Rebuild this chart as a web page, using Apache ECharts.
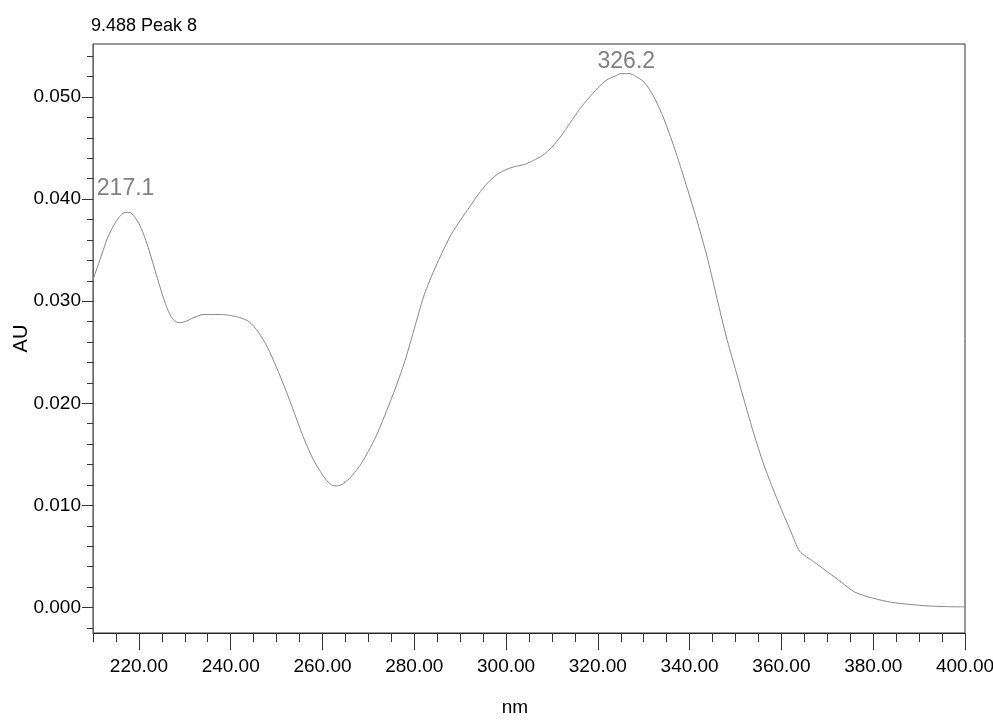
<!DOCTYPE html>
<html>
<head>
<meta charset="utf-8">
<script src="https://cdn.jsdelivr.net/npm/echarts@6/dist/echarts.min.js"></script>
<style>
  html, body { margin: 0; padding: 0; background: #fff; }
  #chart { width: 993px; height: 724px; }
</style>
</head>
<body>
<div id="chart"></div>
<script>
// UV spectrum of peak 8 (retention 9.488 min)
const wavelengths = [210,211,212,213,214,215,216,217,218,219,220,221,222,223,224,225,226,227,228,229,230,232,234,236,238,240,242,244,246,248,250,252,254,256,258,260,261,262,263,264,265,266,268,270,272,274,276,278,280,282,284,286,288,290,292,294,296,298,300,302,304,306,308,310,312,314,316,318,320,322,324,325,326,327,328,330,332,334,336,338,340,342,344,346,348,350,352,354,356,358,360,362,364,367,370,373,376,380,384,388,392,396,400];
const absorbance = [0.0321,0.0334,0.0347,0.0360,0.0370,0.0378,0.0384,0.0387,0.0387,0.0383,0.0376,0.0366,0.0353,0.0338,0.0323,0.0308,0.0295,0.0285,0.0280,0.0279,0.0280,0.0284,0.0287,0.0287,0.0287,0.0286,0.0284,0.0280,0.0270,0.0255,0.0235,0.0213,0.0189,0.0165,0.0145,0.0130,0.0124,0.0120,0.0119,0.0120,0.0123,0.0127,0.0138,0.0153,0.0171,0.0193,0.0216,0.0242,0.0273,0.0304,0.0327,0.0347,0.0365,0.0379,0.0392,0.0405,0.0416,0.0424,0.0429,0.0432,0.0434,0.0438,0.0443,0.0451,0.0462,0.0475,0.0488,0.0499,0.0509,0.0517,0.0521,0.0523,0.0523,0.0523,0.0521,0.0515,0.0502,0.0483,0.0459,0.0432,0.0403,0.0373,0.0340,0.0302,0.0265,0.0233,0.0201,0.0170,0.0142,0.0118,0.0096,0.0075,0.0055,0.0045,0.0035,0.0025,0.0015,0.0009,0.0005,0.0003,0.00015,0.00008,0.00006];

// Apex labels
const peakWavelengths = [217.1, 326.2];
const peakAbsorbance = [0.0387, 0.0523];
const peakLabelLift = [12, 0];

// Axis ticks
const xMajorTicks = [220,240,260,280,300,320,340,360,380,400];
const xMinorTicks = [210,215,220,225,230,235,240,245,250,255,260,265,270,275,280,285,290,295,300,305,310,315,320,325,330,335,340,345,350,355,360,365,370,375,380,385,390,395,400];
const yMajorTicks = [0,0.01,0.02,0.03,0.04,0.05];
const yMinorTicks = [-0.002,0,0.002,0.004,0.006,0.008,0.01,0.012,0.014,0.016,0.018,0.02,0.022,0.024,0.026,0.028,0.03,0.032,0.034,0.036,0.038,0.04,0.042,0.044,0.046,0.048,0.05,0.052,0.054];

const FONT = "'Liberation Sans', Arial, sans-serif";
const X_MIN = 210, X_MAX = 400, Y_MIN = -0.0025, Y_MAX = 0.0552;

const chart = echarts.init(document.getElementById('chart'), null, { renderer: 'canvas' });

const spectrum = wavelengths.map((w, i) => [w, absorbance[i]]);

chart.setOption({
  animation: false,
  backgroundColor: '#ffffff',
  title: {
    text: '9.488 Peak 8',
    left: 91,
    top: 17,
    padding: 0,
    textStyle: { fontFamily: FONT, fontSize: 18, fontWeight: 'normal', color: '#000' }
  },
  grid: {
    left: 93, right: 28, top: 44, bottom: 91,
    outerBoundsMode: 'none',
    containLabel: false,
    show: true, borderColor: '#333', borderWidth: 1, backgroundColor: 'transparent'
  },
  xAxis: [
    {
      type: 'value', min: X_MIN, max: X_MAX, position: 'bottom',
      name: 'nm', nameLocation: 'middle', nameGap: 65, nameMoveOverlap: false,
      nameTextStyle: { fontFamily: FONT, fontSize: 19, color: '#000', padding: [0, 28, 0, 0] },
      axisLine: { show: true, onZero: false, lineStyle: { color: '#222', width: 1 } },
      axisTick: { show: true, length: 17, customValues: xMajorTicks, lineStyle: { color: '#333' } },
      axisLabel: {
        show: true, margin: 24, customValues: xMajorTicks,
        fontFamily: FONT, fontSize: 19, color: '#000',
        formatter: v => v.toFixed(2)
      },
      splitLine: { show: false }
    },
    {
      type: 'value', min: X_MIN, max: X_MAX, position: 'bottom',
      axisLine: { show: false, onZero: false },
      axisTick: { show: true, length: 9, customValues: xMinorTicks, lineStyle: { color: '#333' } },
      axisLabel: { show: false },
      splitLine: { show: false }
    }
  ],
  yAxis: [
    {
      type: 'value', min: Y_MIN, max: Y_MAX, position: 'left',
      name: 'AU', nameLocation: 'middle', nameGap: 62, nameRotate: 90, nameMoveOverlap: false,
      nameTextStyle: { fontFamily: FONT, fontSize: 20, color: '#000' },
      axisLine: { show: true, onZero: false, lineStyle: { color: '#666', width: 1 } },
      axisTick: { show: true, length: 11, customValues: yMajorTicks, lineStyle: { color: '#333' } },
      axisLabel: {
        show: true, margin: 12, customValues: yMajorTicks,
        fontFamily: FONT, fontSize: 19, color: '#000',
        formatter: v => v.toFixed(3)
      },
      splitLine: { show: false }
    },
    {
      type: 'value', min: Y_MIN, max: Y_MAX, position: 'left',
      axisLine: { show: false, onZero: false },
      axisTick: { show: true, length: 6, customValues: yMinorTicks, lineStyle: { color: '#333' } },
      axisLabel: { show: false },
      splitLine: { show: false }
    }
  ],
  series: [
    {
      type: 'line',
      xAxisIndex: 0, yAxisIndex: 0,
      data: spectrum,
      showSymbol: false,
      symbol: 'none',
      smooth: 0.25,
      lineStyle: { color: '#888', width: 1 },
      markPoint: {
        symbol: 'circle',
        symbolSize: 0,
        silent: true,
        data: peakWavelengths.map((w, i) => ({
          coord: [w, peakAbsorbance[i]],
          value: w,
          label: { distance: peakLabelLift[i] }
        })),
        label: {
          show: true,
          position: 'top',
          fontFamily: FONT,
          fontSize: 23,
          color: '#808080',
          formatter: p => p.value.toFixed(1)
        }
      }
    }
  ]
});
</script>
</body>
</html>
